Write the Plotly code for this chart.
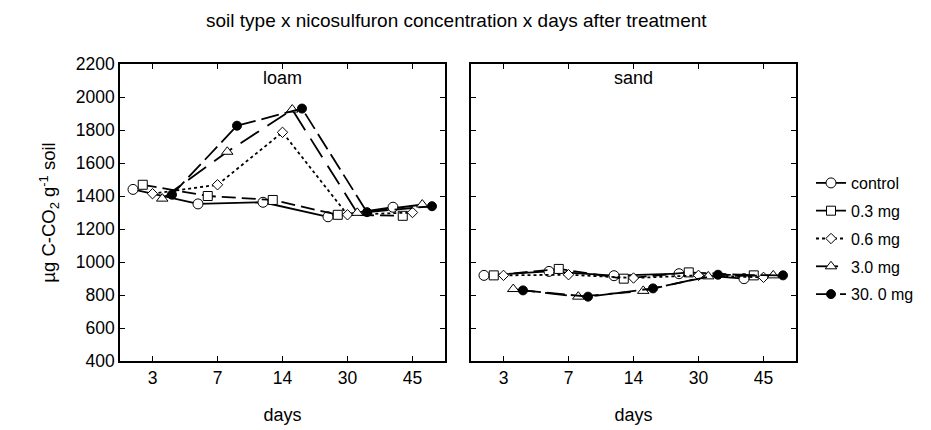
import plotly.graph_objects as go

days = ["3", "7", "14", "30", "45"]
series_names = ["control", "0.3 mg", "0.6 mg", "3.0 mg", "30. 0 mg"]

loam_control = [1440, 1352, 1362, 1274, 1332]
loam_03 = [1468, 1400, 1376, 1286, 1280]
loam_06 = [1414, 1468, 1786, 1286, 1300]
loam_30 = [1384, 1668, 1924, 1298, 1348]
loam_300 = [1408, 1826, 1930, 1302, 1338]

sand_control = [919, 943, 917, 929, 899]
sand_03 = [919, 958, 899, 937, 919]
sand_06 = [919, 923, 903, 919, 907]
sand_30 = [836, 790, 825, 913, 919]
sand_300 = [828, 790, 840, 923, 919]

y_ticks = [400, 600, 800, 1000, 1200, 1400, 1600, 1800, 2000, 2200]

loam = [loam_control, loam_03, loam_06, loam_30, loam_300]
sand = [sand_control, sand_03, sand_06, sand_30, sand_300]

styles = [
    dict(symbol="circle", dash="solid", size=10, fill="white"),
    dict(symbol="square", dash="14px,6px", size=9, fill="white"),
    dict(symbol="diamond", dash="3px,3px", size=8, fill="white"),
    dict(symbol="triangle-up", dash="22px,10px", size=10, fill="white"),
    dict(symbol="circle", dash="18px,6px", size=9, fill="black"),
]

fig = go.Figure()
for panel, data in ((1, loam), (2, sand)):
    for i, (name, vals) in enumerate(zip(series_names, data)):
        st = styles[i]
        marker = dict(symbol=st["symbol"], size=st["size"], color=st["fill"],
                      line=dict(color="black", width=1))
        fig.add_trace(go.Scatter(
            x=days, y=vals, name=name, mode="lines+markers",
            line=dict(color="black", width=1.8, dash=st["dash"]),
            marker=marker, offsetgroup=str(i),
            xaxis="x" if panel == 1 else "x2",
            yaxis="y" if panel == 1 else "y2",
            showlegend=(panel == 1), legendgroup=name,
        ))

axis_common = dict(showline=True, linecolor="black", linewidth=1.5, mirror="ticks",
                   ticks="inside", ticklen=5, tickcolor="black", showgrid=False,
                   zeroline=False)
font_family = "Liberation Sans, Arial, sans-serif"

W, H = 931, 430
fig.update_layout(
    width=W, height=H,
    margin=dict(l=0, r=0, t=0, b=0),
    paper_bgcolor="white", plot_bgcolor="white",
    font=dict(family=font_family, color="black", size=16),
    scattermode="group", scattergap=0.25,
    xaxis=dict(domain=[112 / W, 437 / W], type="category", range=[-0.5, 4.5],
               anchor="y", tickfont=dict(size=17.5),
               title=dict(text="days", font=dict(size=18), standoff=22), automargin=False,
               **axis_common),
    xaxis2=dict(domain=[463 / W, 788 / W], type="category", range=[-0.5, 4.5],
                anchor="y2", tickfont=dict(size=17.5),
                title=dict(text="days", font=dict(size=18), standoff=22), automargin=False,
                **axis_common),
    yaxis=dict(domain=[(H - 353) / H, (H - 56) / H], range=[400, 2200],
               tickvals=y_ticks, tickfont=dict(size=17.5), anchor="x",
               title=dict(text="µg C-CO<sub>2</sub> g<sup>-1</sup> soil", font=dict(size=18.5), standoff=15),
               automargin=False, **axis_common),
    yaxis2=dict(domain=[(H - 353) / H, (H - 56) / H], range=[400, 2200],
                tickvals=y_ticks, showticklabels=False, anchor="x2",
                automargin=False, **axis_common),
    legend=dict(x=803 / W, y=1 - 158 / H, xanchor="left", yanchor="top",
                font=dict(size=16), bgcolor="rgba(0,0,0,0)", itemwidth=30,
                tracegroupgap=4),
    annotations=[
        dict(text="soil type x nicosulfuron concentration x days after treatment",
             x=448 / W, y=1 - 12 / H, xref="paper", yref="paper",
             showarrow=False, font=dict(size=19), xanchor="center", yanchor="middle"),
        dict(text="loam", x=2, y=1 - 70 / H, xref="x", yref="paper",
             showarrow=False, font=dict(size=18), xanchor="center", yanchor="middle"),
        dict(text="sand", x=2, y=1 - 70 / H, xref="x2", yref="paper",
             showarrow=False, font=dict(size=18), xanchor="center", yanchor="middle"),
    ],
)

fig.write_html("out.html")
